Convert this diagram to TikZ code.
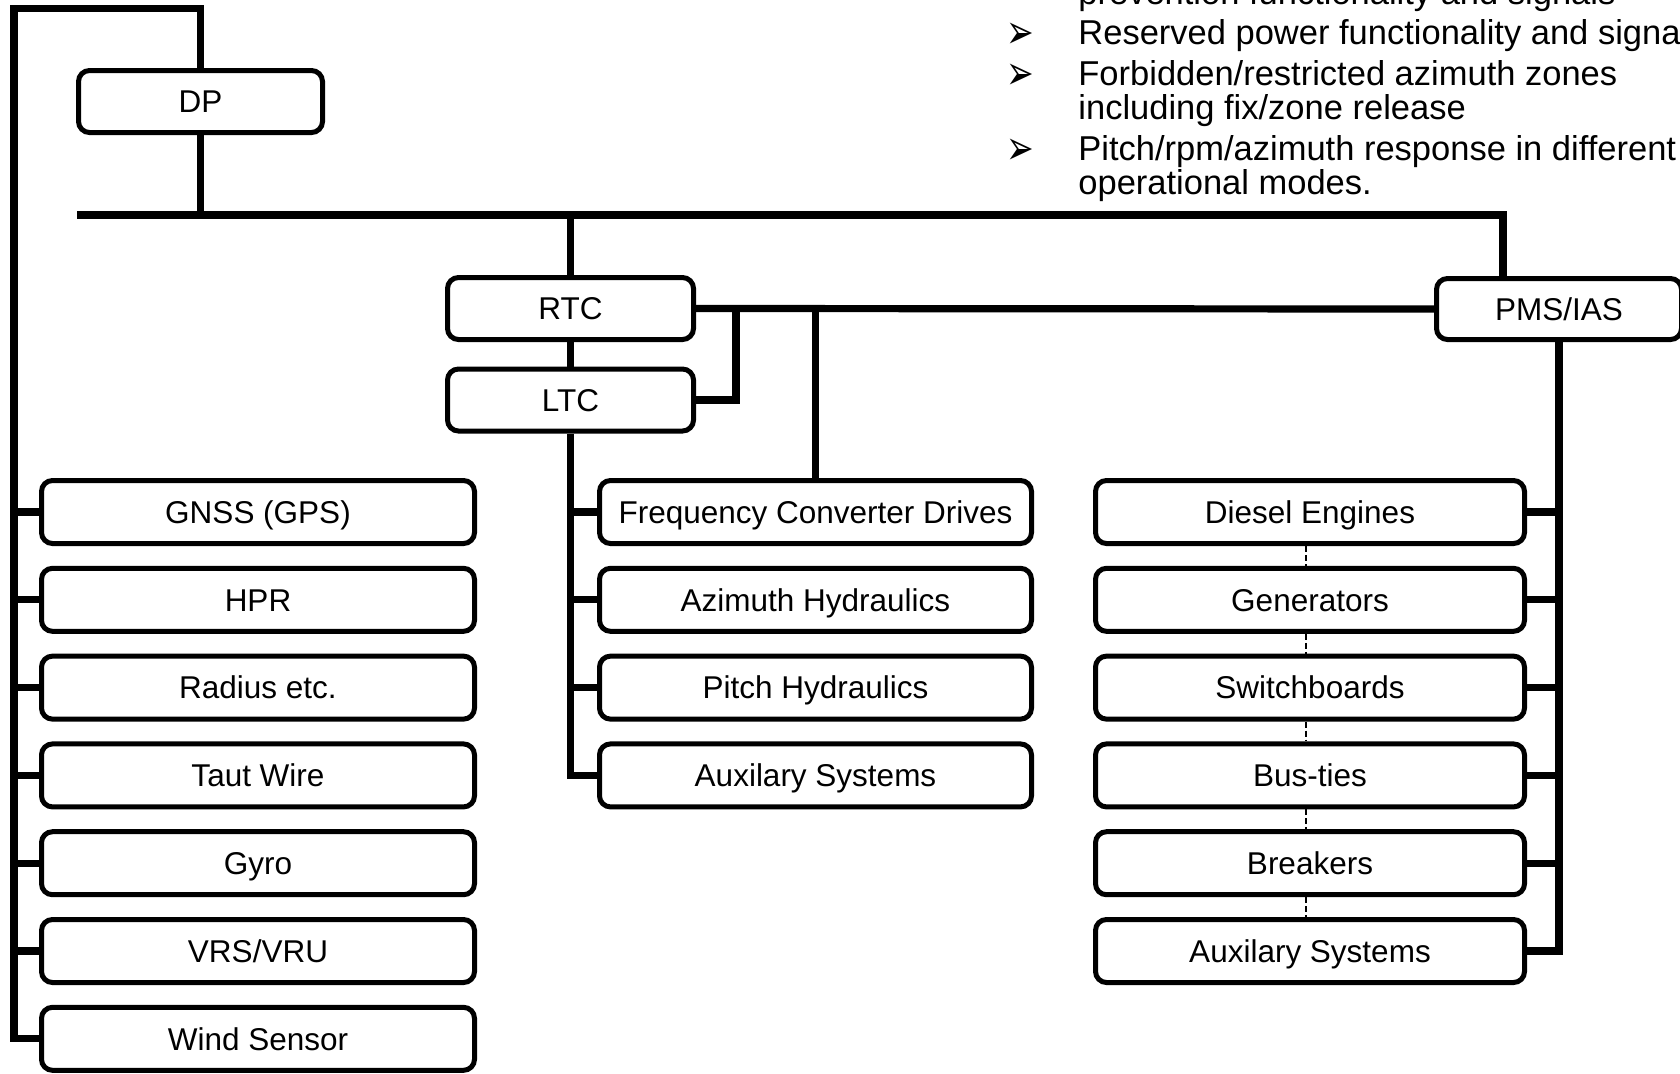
\documentclass[tikz,border=0pt]{standalone}
\usepackage{fontspec}
\setmainfont{Liberation Sans}
\newfontfamily\symfnt{DejaVu Sans}
\newcommand\bxfnt{\fontsize{15.75pt}{18pt}\selectfont}
\newcommand\ntfnt{\fontsize{17.25pt}{17pt}\selectfont}
\newcommand\blfnt{\symfnt\fontsize{16.5pt}{17pt}\selectfont}
\begin{document}
\begin{tikzpicture}[x=0.5pt,y=-0.5pt,
  box/.style={draw=black, line width=2.5pt, rounded corners=5.5pt, fill=white,
    inner sep=0pt, text height=11.3pt, text depth=0pt, font=\bxfnt, align=center},
  topbox/.style={box, minimum width=123pt, minimum height=31pt},
  lbox/.style={box, minimum width=216.5pt, minimum height=31.5pt},
  mbox/.style={box, minimum width=216pt, minimum height=31.5pt},
  rbox/.style={box, minimum width=214.5pt, minimum height=31.5pt},
  conn/.style={line width=3.6pt},
  dashline/.style={line width=1pt, dash pattern=on 3pt off 1.5pt},
  note/.style={anchor=base west, inner sep=0pt, font=\ntfnt},
  bul/.style={anchor=base west, inner sep=0pt, text height=12pt, text depth=0pt, font=\blfnt}]

\useasboundingbox (0,0) rectangle (1680,1073);
\clip (0,0) rectangle (1680,1073);
\fill[white] (0,0) rectangle (1680,1073);

% top nodes
\node[topbox, minimum width=122pt] (dp) at (200.5,101.5) {DP};
\node[topbox] (rtc) at (570.5,308.5) {RTC};
\node[topbox] (ltc) at (570.5,400) {LTC};
\node[topbox, minimum width=122.5pt, minimum height=30.5pt] (pms) at (1559,309) {PMS/IAS};

% left column
\node[lbox] (gnss) at (258,512) {GNSS (GPS)};
\node[lbox] (hpr) at (258,599.8) {HPR};
\node[lbox] (rad) at (258,687.6) {Radius etc.};
\node[lbox] (taut) at (258,775.4) {Taut Wire};
\node[lbox] (gyro) at (258,863.2) {Gyro};
\node[lbox] (vrs) at (258,951) {VRS/VRU};
\node[lbox] (wind) at (258,1038.8) {Wind Sensor};

% middle column
\node[mbox] (fcd) at (815.5,512) {Frequency Converter Drives};
\node[mbox] (azh) at (815.5,599.8) {Azimuth Hydraulics};
\node[mbox] (pih) at (815.5,687.6) {Pitch Hydraulics};
\node[mbox] (auxm) at (815.5,775.4) {Auxilary Systems};

% right column
\node[rbox] (die) at (1310,512) {Diesel Engines};
\node[rbox] (gen) at (1310,599.8) {Generators};
\node[rbox] (swb) at (1310,687.6) {Switchboards};
\node[rbox] (bus) at (1310,775.4) {Bus-ties};
\node[rbox] (brk) at (1310,863.2) {Breakers};
\node[rbox] (auxr) at (1310,951) {Auxilary Systems};

% coordinates
\coordinate (tl) at (14,8.5);
\coordinate (busL) at (77,215);
\coordinate (busR) at (1503,215);
\coordinate (br1) at (736,308.5);

% DP loop to sensors
\draw[conn] (dp.north) -- (dp.north |- tl) -- (tl) -- (tl |- wind.west) -- (wind.west);
\foreach \n in {gnss,hpr,rad,taut,gyro,vrs}
  \draw[conn] (tl |- \n.west) -- (\n.west);

% main bus
\draw[conn] (dp.south) -- (dp.south |- busL);
\draw[conn] (busL) -- (busR) -- (busR |- pms.north);
\draw[conn] (rtc.north) -- (rtc.north |- busL);
\draw[conn] (rtc.south) -- (ltc.north);

% RTC to PMS
\draw[conn] (rtc.east) -- (pms.west);
\draw[conn] (br1) -- (br1 |- ltc.east) -- (ltc.east);
\draw[conn] (fcd.north |- rtc.east) -- (fcd.north);

% LTC down to thruster systems
\draw[conn] (ltc.south) -- (ltc.south |- auxm.west) -- (auxm.west);
\foreach \n in {fcd,azh,pih}
  \draw[conn] (ltc.south |- \n.west) -- (\n.west);

% PMS down to power systems
\draw[conn] (pms.south) -- (pms.south |- auxr.east) -- (auxr.east);
\foreach \n in {die,gen,swb,bus,brk}
  \draw[conn] (pms.south |- \n.east) -- (\n.east);

% dashed links between power boxes
\draw[dashline] ([xshift=-2pt]die.south) -- ([xshift=-2pt]gen.north);
\draw[dashline] ([xshift=-2pt]gen.south) -- ([xshift=-2pt]swb.north);
\draw[dashline] ([xshift=-2pt]swb.south) -- ([xshift=-2pt]bus.north);
\draw[dashline] ([xshift=-2pt]bus.south) -- ([xshift=-2pt]brk.north);
\draw[dashline] ([xshift=-2pt]brk.south) -- ([xshift=-2pt]auxr.north);

% notes
\node[note] (t0) at (1078,4) {prevention functionality and signals};
\node[bul] (b1) at (1006,48) {\scalebox{1.0}[1.45]{➢}};
\node[note] (t1) at (1078,44) {Reserved power functionality and signals};
\node[bul] (b2) at (1006,89) {\scalebox{1.0}[1.45]{➢}};
\node[note] (t2) at (1078,85) {Forbidden/restricted azimuth zones};
\node[note] (t2b) at (1078,119) {including fix/zone release};
\node[bul] (b3) at (1006,164) {\scalebox{1.0}[1.45]{➢}};
\node[note] (t3) at (1078,160) {Pitch/rpm/azimuth response in different};
\node[note] (t3b) at (1078,194) {operational modes.};
\end{tikzpicture}
\end{document}
